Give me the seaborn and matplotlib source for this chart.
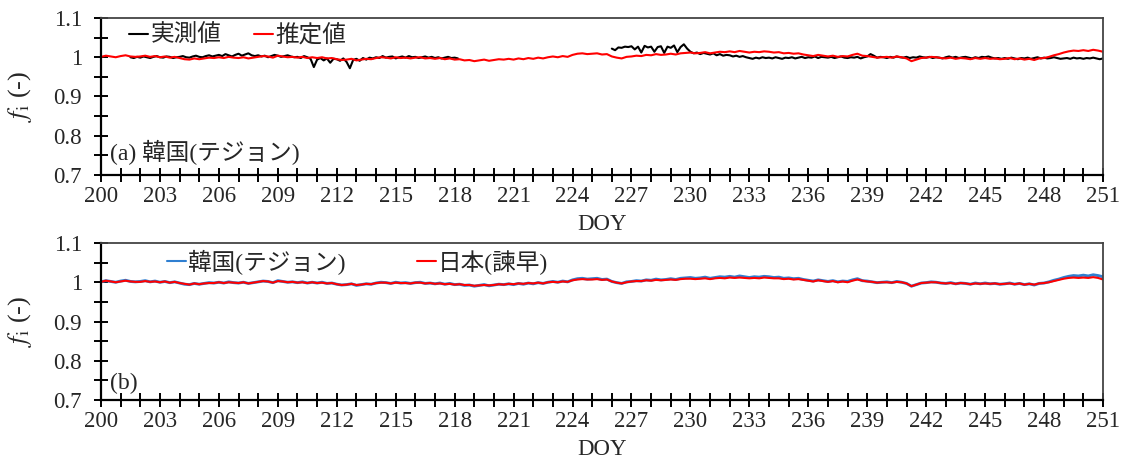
import numpy as np
import pandas as pd
import matplotlib
matplotlib.use("Agg")
import matplotlib.pyplot as plt
from matplotlib.lines import Line2D
from matplotlib.ticker import MultipleLocator
import seaborn as sns

# ---------------- data (deviation from 1, in thousandths) ----------------
# Korea (Daejeon) estimate, 4 samples per day from DOY 200 to 251
EST_KOREA = [
    1, 4, 2, 0, 3, 5, 2, 1, 2, 4, 1, 3, 0, 2, -1, 1, -2, -5, -6, -3,
    -5, -3, -1, -2, 0, -2, 1, -1, -2, 0, -3, -1, 1, 3, 2, -1, 4, 2, 0, 1,
    -1, 1, -2, 0, -2, 0, -3, -2, -5, -7, -6, -4, -8, -6, -4, -5, -2, 0, -1, -3,
    0, -2, -1, -3, -1, 0, -3, -2, -4, -2, -5, -3, -6, -5, -8, -7, -10, -8, -6, -9,
    -7, -5, -6, -4, -6, -3, -5, -2, -4, -1, -3, 0, 2, 0, 3, 1, 6, 9, 10, 8,
    9, 10, 7, 8, 2, -1, -3, 1, 2, 4, 3, 6, 5, 8, 6, 7, 9, 7, 10, 11,
    12, 10, 11, 13, 10, 12, 14, 13, 15, 13, 16, 14, 12, 14, 13, 15, 14, 12, 13, 10,
    11, 9, 10, 7, 5, 3, 6, 4, 2, 4, 1, 3, 2, 6, 9, 4, 3, 1, -1, 0,
    1, -1, 2, 0, -3, -10, -6, -2, -1, 1, 0, -2, -3, -1, -4, -2, -3, -5, -2, -4,
    -2, -4, -3, -5, -4, -2, -5, -3, -6, -4, -7, -3, -2, 1, 5, 8, 12, 15, 17, 16,
    18, 16, 19, 17, 14,
]

# Japan (Isahaya), 4 samples per day from DOY 200 to 251
EST_JAPAN = [
    1, 4, 2, 0, 2, 4, 2, 1, 1, 3, 1, 2, 0, 2, -1, 1, -2, -4, -6, -3,
    -5, -3, -2, -2, 0, -2, 0, -1, -2, 0, -3, -1, 1, 3, 2, -1, 3, 2, 0, 1,
    -1, 0, -2, 0, -2, -1, -3, -2, -5, -7, -6, -4, -7, -6, -4, -5, -2, -1, -1, -3,
    -1, -2, -2, -3, -1, -1, -3, -2, -4, -3, -5, -4, -6, -5, -7, -7, -9, -8, -7, -8,
    -7, -5, -6, -4, -5, -3, -4, -2, -3, -1, -3, 0, 1, 0, 2, 1, 5, 7, 8, 7,
    7, 8, 6, 7, 2, -1, -3, 0, 2, 3, 3, 5, 4, 6, 5, 6, 7, 6, 8, 9,
    9, 8, 9, 10, 8, 10, 11, 10, 12, 11, 12, 11, 10, 11, 10, 12, 11, 10, 10, 8,
    9, 7, 8, 6, 4, 2, 5, 3, 1, 3, 0, 2, 0, 4, 7, 4, 2, 1, -1, 0,
    0, -1, 1, 0, -3, -10, -6, -2, -1, 0, 0, -2, -3, -2, -4, -2, -3, -5, -3, -4,
    -3, -4, -3, -5, -4, -3, -5, -3, -6, -4, -6, -3, -2, 0, 3, 6, 9, 11, 12, 11,
    12, 11, 13, 11, 7,
]

# Measured values (Daejeon), 6 samples per day
OBS_SEG1_START = 201.5
OBS_SEG1 = [
    0, -2, 1,
    -1, 2, 0, -2, 1, 3,
    0, -1, 2, 1, -2, 0,
    1, 3, 0, -1, 2, 4,
    1, 0, 3, 5, 2, 4,
    6, 3, 8, 5, 2, 6,
    9, 4, 7, 10, 5, 3,
    5, 2, 4, 0, 3, 6,
    4, 1, 3, 5, 2, 0,
    1, -2, 3, 0, -4, -25,
    -6, -2, -8, -3, -14, -4,
    -5, -9, -3, -12, -28, -7,
    -4, -9, -2, -6, -1, -3,
    0, -2, 3, -1, 1, 2,
    -3, 0, 2, -1, 3, 0,
    1, -2, 0, 2, -1, 1,
    -2, 0, -3, -1, 1, -2,
    -1, -3,
]
OBS_SEG2_START = 226.0
OBS_SEG2 = [
    22, 18, 25, 24, 27, 26,
    28, 20, 27, 12, 29, 25,
    27, 14, 26, 28, 11, 27,
    24, 30, 13, 26, 33, 22,
    14, 10, 12, 8, 11, 9,
    7, 10, 5, 8, 4, 6,
    5, 2, 4, 1, 3, 0,
    -2, -4, -1, -3, 0, -2,
    -1, -3, 0, -2, -4, -1,
    -2, 0, -3, -1, 1, -2,
    0, -1, 2, -2, 1, 0,
    -1, 1, -2, 0, 2, -1,
    -2, 0, -1, 1, -3, 0,
    2, 8, 4, -1, 1, 0,
    -2, 1, -1, 2, 0, -1,
    1, -2, 0, -1, 2, 0,
    -1, 1, -2, 0, -1, -3,
    0, 2, -1, 1, -2, 0,
    1, -1, -3, 0, -2, 1,
    0, 2, -1, -3, -2, -4,
    -2, -4, -1, -3, -5, -2,
    -3, -1, -4, -2, 0, -3,
    -1, -3, -2, 0, -2, -4,
    -3, -2, -4, -1, -3, -2,
    -4, -2, -3, -1, -3, -5,
    -3,
]

X_TICK_LABELS = list(range(200, 252, 3))
Y_TICKS = [0.7, 0.8, 0.9, 1.0, 1.1]
Y_TICK_LABELS = ["0.7", "0.8", "0.9", "1", "1.1"]

# ---------------- frames ----------------
df_korea = pd.DataFrame({"DOY": 200 + np.arange(len(EST_KOREA)) / 4,
                         "fi": 1 + np.array(EST_KOREA) / 1000})
df_japan = pd.DataFrame({"DOY": 200 + np.arange(len(EST_JAPAN)) / 4,
                         "fi": 1 + np.array(EST_JAPAN) / 1000})
seg1 = pd.DataFrame({"DOY": OBS_SEG1_START + np.arange(len(OBS_SEG1)) / 6,
                     "fi": 1 + np.array(OBS_SEG1) / 1000, "seg": 1})
seg2 = pd.DataFrame({"DOY": OBS_SEG2_START + np.arange(len(OBS_SEG2)) / 6,
                     "fi": 1 + np.array(OBS_SEG2) / 1000, "seg": 2})
df_obs = pd.concat([seg1, seg2], ignore_index=True)

# ---------------- style ----------------
sns.set_theme(style="white")
plt.rcParams["font.family"] = ["Liberation Serif", "Noto Sans CJK JP"]
plt.rcParams["mathtext.fontset"] = "stix"

fig = plt.figure(figsize=(11.24, 4.61), dpi=100)
W, H = 1124, 461
def box(l, r, t, b):
    return [l / W, 1 - b / H, (r - l) / W, (b - t) / H]

ax_a = fig.add_axes(box(101, 1103, 18, 175))
ax_b = fig.add_axes(box(101, 1103, 243, 400))

LW = 1.5
BLUE = "#2f7fd1"

sns.lineplot(data=df_obs, x="DOY", y="fi", units="seg", estimator=None,
             color="black", lw=LW, ax=ax_a, legend=False)
sns.lineplot(data=df_korea, x="DOY", y="fi", color="#ff0000", lw=LW,
             ax=ax_a, legend=False)

sns.lineplot(data=df_korea, x="DOY", y="fi", color=BLUE, lw=LW + 0.6,
             ax=ax_b, legend=False)
sns.lineplot(data=df_japan, x="DOY", y="fi", color="#ff0000", lw=LW,
             ax=ax_b, legend=False)

FS = 16.5
FS_CJK = 17
for ax in (ax_a, ax_b):
    ax.set_xlim(200, 251)
    ax.set_ylim(0.7, 1.1)
    ax.set_xticks(X_TICK_LABELS)
    ax.set_xticklabels([str(v) for v in X_TICK_LABELS], fontsize=FS)
    ax.xaxis.set_minor_locator(MultipleLocator(1))
    ax.set_yticks(Y_TICKS)
    ax.set_yticklabels(Y_TICK_LABELS, fontsize=FS)
    ax.yaxis.set_minor_locator(MultipleLocator(0.05))
    ax.tick_params(axis="both", which="both", direction="inout", length=9.5,
                   width=1.4, color="black", bottom=True, left=True,
                   top=False, right=False)
    ax.tick_params(axis="x", which="major", pad=3)
    ax.tick_params(axis="y", which="major", pad=9)
    ax.set_xlabel("DOY", fontsize=FS, labelpad=5)
    ax.set_ylabel(r"$f_\mathrm{i}$ (-)", fontsize=19, labelpad=14)
    for side in ("left", "bottom"):
        ax.spines[side].set_color("black")
        ax.spines[side].set_linewidth(1.6)
    for side in ("top", "right"):
        ax.spines[side].set_color("#444444")
        ax.spines[side].set_linewidth(1.3)
    ax.grid(False)

ax_a.text(0.009, 0.146, "(a) 韓国(テジョン)", transform=ax_a.transAxes,
          fontsize=FS_CJK, va="center", ha="left")
ax_b.text(0.009, 0.108, "(b)", transform=ax_b.transAxes,
          fontsize=FS_CJK, va="center", ha="left")

h_a = [Line2D([], [], color="black", lw=LW), Line2D([], [], color="#ff0000", lw=LW)]
ax_a.legend(h_a, ["実測値", "推定値"], loc="center left",
            bbox_to_anchor=(0.028, 0.885), ncol=2, frameon=False, fontsize=FS_CJK,
            handlelength=0.8, handletextpad=0.1, columnspacing=1.4,
            borderaxespad=0, borderpad=0)

h_b = [Line2D([], [], color=BLUE, lw=LW), Line2D([], [], color="#ff0000", lw=LW)]
ax_b.legend(h_b, ["韓国(テジョン)", "日本(諫早)"], loc="center left",
            bbox_to_anchor=(0.066, 0.879), ncol=2, frameon=False, fontsize=FS_CJK,
            handlelength=0.8, handletextpad=0.1, columnspacing=3.0,
            borderaxespad=0, borderpad=0)

fig.savefig("out.png", dpi=100)
